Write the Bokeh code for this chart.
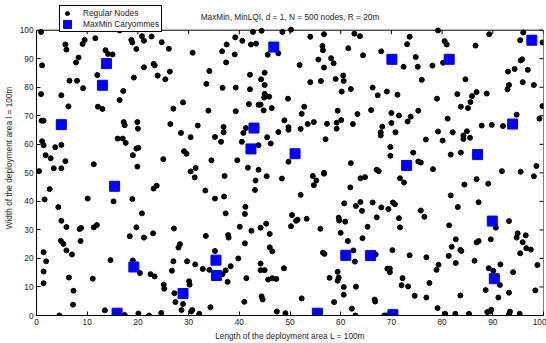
from math import pi
from bokeh.plotting import figure
from bokeh.models import Range1d, Legend, LegendItem, FixedTicker, Label
from bokeh.embed import file_html
from bokeh.resources import INLINE

# Regular sensor nodes (x = length, y = width, metres)
node_x = [
    0.9, 5.7, 5.9, 9.5, 9.1, 11.6, 16.4, 18.7, 18.9, 19.7, 13.6, 14.1, 15.0, 8.3, 7.8, 1.1, 12.0, 6.5, 8.0, 9.2,
    19.2, 17.1, 16.4, 0.9, 4.9, 6.3, 12.1, 13.0, 1.0, 1.4, 17.2, 17.4, 19.9, 20.0, 1.1, 1.4, 16.0, 17.0, 17.6, 4.9,
    3.7, 1.8, 2.8, 5.7, 19.7, 20.1, 19.0, 11.3, 3.4, 4.9, 0.5, 19.9,
    20.8, 21.2, 22.7, 24.7, 26.1, 30.8, 39.2, 40.6, 37.5, 36.6, 39.1, 37.4, 21.2, 23.1, 23.3, 26.3, 23.9, 25.4, 34.1, 33.5,
    36.7, 39.3, 28.9, 27.0, 33.9, 39.3, 26.4, 31.8, 28.5, 30.4, 36.9, 36.9, 35.2, 36.4, 40.5, 29.1, 29.6, 25.0, 34.5, 39.6,
    30.4, 31.4,
    42.7, 44.4, 48.5, 50.2, 42.3, 43.3, 45.6, 47.7, 54.0, 56.7, 56.4, 56.5, 55.6, 58.1, 58.6, 56.7, 51.9, 42.1, 45.0, 44.3,
    45.0, 42.1, 45.0, 44.9, 45.9, 49.6, 54.0, 56.1, 59.0, 60.5, 60.2, 41.9, 43.8, 44.2, 44.8, 46.4, 52.8, 52.3, 59.4, 48.9,
    49.7, 49.7, 52.1, 53.5, 54.7, 57.3, 59.2, 60.1, 59.2, 41.3, 40.8, 47.7, 45.5, 46.2, 57.0, 43.8, 49.7, 41.7, 43.8, 56.7,
    62.7, 63.8, 73.6, 79.2, 73.1, 80.5, 80.9, 61.5, 68.0, 64.4, 74.8, 72.4, 75.2, 78.1, 80.2, 60.6, 76.0, 62.0, 66.3, 67.3,
    69.1, 71.2, 79.0, 66.0, 63.3, 70.0, 71.5, 73.8, 75.3, 73.2, 70.0, 62.4, 68.2, 67.9, 67.9, 70.8, 79.2, 76.8, 80.1, 69.8,
    69.8, 74.3, 75.3, 75.8, 62.0, 67.1, 67.5, 78.2,
    89.3, 96.0, 95.4, 99.8, 86.6, 95.5, 95.8, 94.3, 93.0, 96.9, 84.6, 95.9, 93.2, 92.9, 98.1, 83.0, 86.8, 85.9, 88.8, 85.6,
    83.7, 85.1, 99.8, 94.7, 81.1, 99.2, 87.8, 89.8, 92.0, 82.1, 84.9, 84.2, 84.2, 85.5, 81.7, 83.7, 91.8, 95.5, 98.6,
    2.6, 1.6, 4.3, 10.1, 15.2, 18.9, 4.9, 5.9, 8.5, 8.8, 11.3, 11.9, 19.7, 18.4, 4.8, 5.3, 8.7, 5.9, 7.0, 1.4,
    1.9, 14.6, 19.0, 20.4, 1.4, 1.4, 6.4, 11.1, 7.3, 7.2, 13.5, 17.4, 20.1, 4.5,
    22.2, 24.6, 27.4, 28.9, 28.6, 30.7, 30.5, 32.1, 34.3, 41.0, 44.6, 47.4, 49.1, 52.3, 58.7, 62.2, 62.9, 66.7, 66.8, 68.6,
    69.0, 76.9, 79.1, 80.6, 82.6, 85.3, 89.4, 89.7, 91.1, 93.4, 93.2, 95.3,
    31.2, 37.1, 23.1, 23.7, 33.3, 35.2, 37.0, 20.8, 37.3, 23.0, 21.2, 27.1, 33.4, 37.8, 37.9, 40.1, 28.3, 28.0, 35.2, 27.0,
    29.7, 31.3, 22.5, 23.3, 26.7, 32.8, 34.1, 39.8, 38.3, 37.3, 36.7, 37.7, 30.1, 30.2, 25.1, 25.2, 27.2,
    45.4, 48.4, 43.2, 43.1, 54.5, 55.2, 54.7, 56.7, 52.1, 41.2, 41.1, 60.7, 42.4, 44.2, 45.3, 46.0, 50.4, 51.2, 51.5, 50.2,
    53.3, 56.0, 59.6, 59.7, 60.0, 41.1, 46.0, 46.5, 56.5, 56.8, 44.2, 44.2, 45.0, 48.8, 41.4, 45.7, 46.5, 47.3, 57.8, 59.4,
    59.6, 59.4, 60.6, 60.6, 44.4,
    63.9, 64.8, 61.9, 71.7, 72.5, 63.0, 63.9, 64.2, 66.3, 68.0, 69.4, 70.3, 70.7, 67.1, 71.5, 71.7, 75.8, 76.5, 60.9, 65.3,
    61.4, 64.3, 62.5, 62.8, 66.9, 70.2, 73.6, 76.9, 79.3, 78.9, 69.2, 69.7, 69.7, 72.2, 72.0, 73.3, 77.5, 63.0, 74.6,
    98.1, 86.8, 84.4, 89.1, 81.7, 87.2, 83.1, 93.2, 81.4, 90.6, 94.9, 94.7, 96.5, 95.9, 96.6, 97.5, 95.4, 82.7, 81.9, 83.6,
    83.8, 86.8, 87.2, 89.6, 81.3, 82.7, 86.4, 89.2, 90.1, 91.5, 94.0, 98.8, 91.4, 88.6, 93.2, 98.4, 83.6, 88.9,
]
node_y = [
    99.4, 95.0, 93.2, 96.6, 95.2, 97.2, 99.9, 96.6, 95.7, 93.4, 93.0, 91.7, 91.5, 90.4, 88.7, 87.7, 84.3, 82.3, 82.3, 79.7,
    83.4, 78.7, 75.5, 77.6, 77.2, 73.3, 73.2, 72.4, 68.3, 68.3, 67.8, 66.7, 67.8, 65.5, 61.1, 59.7, 62.0, 62.0, 60.5, 59.8,
    59.0, 56.2, 55.1, 54.1, 58.5, 58.8, 56.2, 53.0, 51.6, 51.6, 50.6, 52.2,
    97.9, 96.3, 97.8, 95.8, 93.5, 92.1, 97.5, 96.3, 95.0, 92.6, 91.5, 88.7, 87.0, 88.2, 87.7, 85.5, 84.1, 82.8, 85.7, 81.2,
    79.8, 79.9, 74.7, 72.5, 71.8, 71.6, 67.1, 66.6, 64.0, 62.5, 66.1, 64.2, 62.6, 60.9, 60.9, 57.6, 56.7, 54.8, 54.4, 54.4,
    50.5, 51.7,
    99.4, 99.8, 99.4, 100.2, 95.0, 95.3, 91.4, 91.9, 97.7, 98.6, 94.5, 93.0, 89.7, 90.2, 88.4, 86.9, 87.8, 84.4, 85.1, 82.8,
    80.8, 79.3, 77.7, 76.4, 76.7, 76.0, 81.8, 82.2, 82.9, 84.1, 78.5, 74.1, 73.9, 73.9, 71.9, 72.7, 73.2, 70.7, 71.8, 68.4,
    66.0, 65.1, 65.4, 67.1, 67.8, 67.2, 67.6, 68.5, 65.5, 65.7, 64.0, 64.3, 62.5, 60.3, 61.8, 59.7, 53.9, 51.8, 51.1, 50.0,
    98.8, 97.9, 97.7, 99.9, 95.1, 96.2, 95.0, 93.7, 92.6, 91.2, 90.6, 87.2, 87.2, 87.6, 88.6, 82.2, 82.6, 79.4, 79.9, 77.2,
    78.5, 77.4, 76.0, 72.0, 70.6, 71.0, 70.1, 69.7, 71.8, 68.0, 67.5, 67.1, 66.2, 64.2, 63.1, 64.2, 64.5, 61.7, 61.3, 59.1,
    56.0, 57.1, 54.0, 53.6, 53.4, 51.1, 50.6, 51.3,
    98.6, 99.2, 96.5, 95.7, 94.6, 89.4, 89.8, 86.4, 85.5, 86.1, 82.8, 81.8, 80.8, 79.3, 80.8, 77.6, 78.3, 76.9, 77.8, 74.8,
    73.2, 72.7, 73.4, 70.4, 69.0, 69.0, 66.6, 66.8, 66.4, 64.2, 64.6, 63.1, 61.9, 62.3, 56.4, 57.1, 50.6, 50.4, 52.4,
    44.3, 40.7, 38.0, 41.0, 40.0, 40.8, 33.2, 31.0, 30.3, 30.7, 30.9, 31.7, 30.9, 27.8, 26.2, 25.1, 26.1, 22.8, 21.4, 22.2,
    19.0, 19.4, 19.3, 14.9, 15.4, 11.3, 13.3, 12.9, 8.7, 3.8, 1.8, 0.2, 0.7, 0.0,
    0.0, 0.9, 4.7, 4.0, 1.9, 1.9, 1.4, 0.6, 2.9, 4.8, 5.6, 1.4, 0.8, 6.0, 4.7, 2.4, 0.0, 5.6, 4.9, 0.0,
    0.0, 6.3, 2.6, 0.6, 0.6, 0.6, 1.4, 2.0, 6.3, 1.4, 0.4, 0.6,
    48.4, 48.9, 44.5, 45.5, 43.8, 41.0, 41.7, 35.8, 35.8, 28.8, 27.3, 30.5, 27.9, 28.2, 27.3, 31.1, 25.0, 23.8, 22.6, 19.0,
    19.0, 17.9, 14.5, 13.7, 15.7, 16.3, 16.0, 20.0, 17.3, 15.8, 14.5, 11.8, 12.0, 10.8, 10.8, 9.4, 7.8,
    48.8, 48.0, 47.3, 44.0, 48.9, 47.3, 45.7, 49.7, 42.3, 38.1, 35.6, 39.3, 29.7, 30.8, 32.2, 28.6, 35.2, 33.2, 33.6, 31.3,
    33.9, 30.4, 34.3, 33.3, 29.0, 25.3, 23.9, 22.5, 22.0, 21.6, 18.2, 15.9, 15.9, 16.6, 13.1, 12.6, 13.1, 12.8, 13.2, 15.3,
    13.3, 12.2, 10.0, 7.3, 6.7,
    48.1, 48.5, 44.9, 48.1, 46.6, 38.4, 39.8, 36.7, 39.6, 37.9, 37.3, 39.6, 39.0, 34.4, 34.1, 30.9, 36.8, 34.6, 32.9, 31.1,
    26.1, 27.1, 22.8, 18.9, 21.4, 22.9, 21.1, 20.4, 17.8, 16.0, 16.4, 16.4, 15.2, 13.1, 10.6, 10.2, 11.4, 10.1, 6.9,
    48.8, 47.8, 45.9, 46.2, 42.1, 39.7, 38.0, 33.1, 31.6, 30.8, 28.8, 27.3, 28.1, 25.7, 23.6, 23.1, 21.8, 26.7, 24.1, 23.0,
    22.6, 25.6, 26.1, 26.7, 20.9, 18.4, 19.2, 16.6, 15.7, 17.9, 15.2, 17.7, 10.7, 8.9, 8.0, 8.8, 7.0, 1.2,
]

# Cluster heads chosen by MaxMin
head_x = [13.8, 13.0, 4.9, 46.8, 42.9, 42.3, 51.0, 70.1, 81.4, 97.7, 93.9, 87.0, 73.0,
          15.4, 19.2, 15.9, 35.4, 35.5, 28.9, 55.4, 61.0, 65.9, 70.3, 89.9, 90.3]
head_y = [88.3, 80.7, 66.9, 94.1, 65.7, 58.4, 56.7, 89.8, 89.8, 96.5, 67.1, 56.4, 52.6,
          45.3, 17.0, 0.8, 19.4, 14.0, 7.7, 0.8, 21.1, 21.0, 0.3, 33.1, 12.9]

x_ticks = [0, 10, 20, 30, 40, 50, 60, 70, 80, 90, 100]
y_ticks = [0, 10, 20, 30, 40, 50, 60, 70, 80, 90, 100]
AREA = 100  # side of the deployment square

FONT = "Liberation Sans"
FS = "8.3px"
INK = "#222222"

# The frame reaches the top of the canvas so that the title and the legend
# can sit above the deployment square; the square itself ends at y = 100.
W, H = 546, 343
LEFT, RIGHT, BOTTOM, SQUARE_TOP = 36, 3, 25, 30
frame_h = H - BOTTOM
y_top = AREA * frame_h / (frame_h - SQUARE_TOP)

p = figure(width=W, height=H, output_backend="svg", toolbar_location=None,
           x_range=Range1d(0, AREA), y_range=Range1d(0, y_top),
           min_border_left=LEFT, min_border_right=RIGHT,
           min_border_top=0, min_border_bottom=BOTTOM)
p.background_fill_color = "white"
p.border_fill_color = "white"
p.outline_line_color = None
p.grid.visible = False

for ax, ticks in ((p.xaxis[0], x_ticks), (p.yaxis[0], y_ticks)):
    ax.ticker = FixedTicker(ticks=ticks)
    ax.bounds = (0, AREA)
    ax.axis_line_color = "black"
    ax.major_tick_in = 4
    ax.major_tick_out = 0
    ax.minor_tick_line_color = None
    ax.major_tick_line_color = "black"
    ax.major_label_text_font = FONT
    ax.major_label_text_font_size = FS
    ax.major_label_text_color = INK
    ax.major_label_standoff = 3
    ax.axis_label_text_font = FONT
    ax.axis_label_text_font_size = FS
    ax.axis_label_text_font_style = "normal"
    ax.axis_label_text_color = INK
    ax.axis_label_standoff = 3

p.xaxis.axis_label = "Length of the deployment area L = 100m"
p.yaxis.axis_label = "Width of the deployment area l = 100m"

# Top and right edges of the box, with inward ticks like the axes
p.line(x=[0, AREA, AREA], y=[AREA, AREA, 0], line_color="black", line_width=1)
p.ray(x=x_ticks, y=[AREA] * len(x_ticks), length=4, length_units="screen",
      angle=-pi / 2, line_color="black", line_width=1)
p.ray(x=[AREA] * len(y_ticks), y=y_ticks, length=4, length_units="screen",
      angle=pi, line_color="black", line_width=1)

nodes = p.scatter(node_x, node_y, marker="circle", size=5,
                  fill_color="black", line_color="black")
heads = p.rect(head_x, head_y, width=10, height=10,
               width_units="screen", height_units="screen",
               fill_color="#0000FF", line_color="#0000FF")

title = Label(x=AREA / 2, y=(AREA + y_top) / 2 - 0.7,
              text="MaxMin, MinLQI, d = 1, N = 500 nodes, R = 20m",
              text_align="center", text_baseline="middle",
              text_font=FONT, text_font_size=FS, text_color=INK)
p.add_layout(title)

legend = Legend(items=[LegendItem(label="Regular Nodes", renderers=[nodes]),
                       LegendItem(label="MaxMin Caryommes", renderers=[heads])],
                location=(23, frame_h - SQUARE_TOP - 5))
legend.label_text_font = FONT
legend.label_text_font_size = FS
legend.label_text_color = INK
legend.glyph_width = 10
legend.glyph_height = 10
legend.label_height = 10
legend.label_standoff = 11
legend.spacing = 1
legend.padding = 2
legend.margin = 0
legend.border_line_color = "black"
legend.border_line_alpha = 1.0
legend.border_line_width = 1
legend.background_fill_color = "white"
legend.background_fill_alpha = 1.0
p.add_layout(legend, "center")

open("out.html", "w").write(file_html(p, INLINE))
